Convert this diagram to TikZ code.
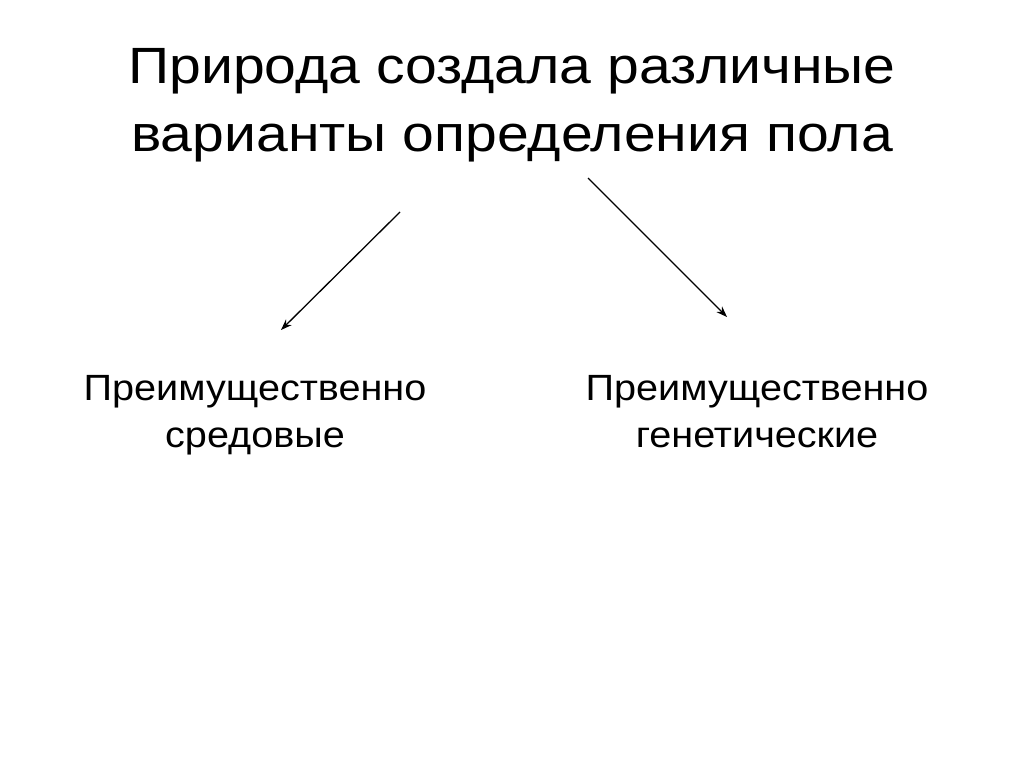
\documentclass[tikz,border=0pt]{standalone}
\usepackage{fontspec}
\usepackage{graphicx}
\setmainfont{Liberation Sans}
\usetikzlibrary{arrows.meta}
\newcommand{\titlestretch}[1]{\scalebox{1.12}[1]{#1}}
\newcommand{\bodystretch}[1]{\scalebox{1.085}[1]{#1}}
\begin{document}
\begin{tikzpicture}[x=1pt,y=-1pt,
  titletext/.style={anchor=base,inner sep=0pt,font=\fontsize{51}{60}\selectfont},
  bodytext/.style={anchor=base,inner sep=0pt,font=\fontsize{36.5}{42}\selectfont},
  arrowline/.style={line width=1.3pt,-{Stealth[length=11pt,width=8pt]}}]
\useasboundingbox[fill=white] (0,0) rectangle (1024,767);
\node[titletext] (t1) at (512,84) {\titlestretch{Природа создала различные}};
\node[titletext] (t2) at (512,152) {\titlestretch{варианты определения пола}};
\node[bodytext] (l1) at (255,400) {\bodystretch{Преимущественно}};
\node[bodytext] (l2) at (255,447) {\bodystretch{средовые}};
\node[bodytext] (r1) at (757,400) {\bodystretch{Преимущественно}};
\node[bodytext] (r2) at (757,447) {\bodystretch{генетические}};
\coordinate (a1s) at (400,212);
\coordinate (a1e) at (281,330);
\coordinate (a2s) at (588,178);
\coordinate (a2e) at (727,317);
\draw[arrowline] (a1s) -- (a1e);
\draw[arrowline] (a2s) -- (a2e);
\end{tikzpicture}
\end{document}
